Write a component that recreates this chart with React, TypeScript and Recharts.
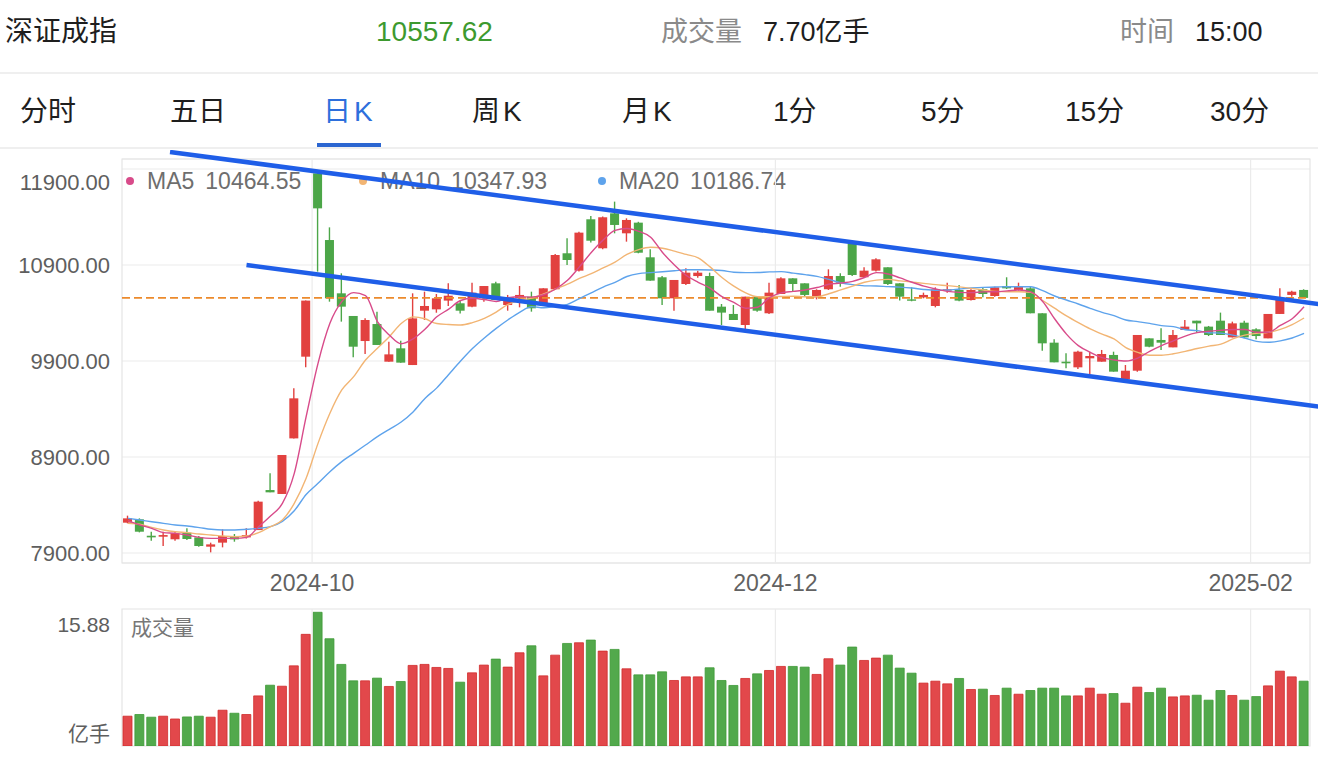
import {
  ComposedChart,
  Bar,
  Line,
  Cell,
  XAxis,
  YAxis,
  CartesianGrid,
  ReferenceLine,
  ReferenceArea,
} from 'recharts'

const dates = [
  '2024-09-05', '2024-09-06', '2024-09-09', '2024-09-10', '2024-09-11', '2024-09-12', '2024-09-13', '2024-09-18', '2024-09-19', '2024-09-20',
  '2024-09-23', '2024-09-24', '2024-09-25', '2024-09-26', '2024-09-27', '2024-09-30', '2024-10-08', '2024-10-09', '2024-10-10', '2024-10-11',
  '2024-10-14', '2024-10-15', '2024-10-16', '2024-10-17', '2024-10-18', '2024-10-21', '2024-10-22', '2024-10-23', '2024-10-24', '2024-10-25',
  '2024-10-28', '2024-10-29', '2024-10-30', '2024-10-31', '2024-11-01', '2024-11-04', '2024-11-05', '2024-11-06', '2024-11-07', '2024-11-08',
  '2024-11-11', '2024-11-12', '2024-11-13', '2024-11-14', '2024-11-15', '2024-11-18', '2024-11-19', '2024-11-20', '2024-11-21', '2024-11-22',
  '2024-11-25', '2024-11-26', '2024-11-27', '2024-11-28', '2024-11-29', '2024-12-02', '2024-12-03', '2024-12-04', '2024-12-05', '2024-12-06',
  '2024-12-09', '2024-12-10', '2024-12-11', '2024-12-12', '2024-12-13', '2024-12-16', '2024-12-17', '2024-12-18', '2024-12-19', '2024-12-20',
  '2024-12-23', '2024-12-24', '2024-12-25', '2024-12-26', '2024-12-27', '2024-12-30', '2024-12-31', '2025-01-02', '2025-01-03', '2025-01-06',
  '2025-01-07', '2025-01-08', '2025-01-09', '2025-01-10', '2025-01-13', '2025-01-14', '2025-01-15', '2025-01-16', '2025-01-17', '2025-01-20',
  '2025-01-21', '2025-01-22', '2025-01-23', '2025-01-24', '2025-01-27', '2025-02-05', '2025-02-06', '2025-02-07', '2025-02-10', '2025-02-11',
]

const opens = [
  8216, 8251, 8080, 8070, 8043, 8112, 8063, 7966, 8008, 8070,
  8063, 8139, 8556, 8515, 9094, 9945, 11855, 11160, 10605, 10369,
  10108, 10285, 9893, 10032, 9858, 10424, 10438, 10529, 10501, 10466,
  10570, 10709, 10483, 10553, 10570, 10494, 10647, 11022, 10841, 11376,
  11074, 11438, 11230, 11341, 10980, 10772, 10553, 10702, 10785, 10785,
  10466, 10390, 10275, 10570, 10397, 10598, 10761, 10709, 10563, 10647,
  10785, 11119, 10772, 10841, 10876, 10709, 10542, 10563, 10473, 10633,
  10640, 10535, 10647, 10577, 10681, 10640, 10657, 10397, 10091, 9893,
  9834, 9928, 9893, 9963, 9709, 9799, 10136, 10119, 10042, 10223,
  10320, 10258, 10320, 10146, 10299, 10230, 10136, 10390, 10588, 10640,
]

const closes = [
  8261, 8122, 8063, 8087, 8105, 8046, 7973, 7990, 8077, 8042,
  8087, 8435, 8532, 8921, 9511, 10529, 11490, 10553, 10466, 10049,
  10327, 10067, 9969, 9883, 10344, 10473, 10553, 10580, 10424, 10612,
  10681, 10535, 10553, 10588, 10449, 10657, 11004, 10952, 11237, 11153,
  11397, 11317, 11369, 11028, 10737, 10553, 10744, 10820, 10820, 10424,
  10404, 10327, 10570, 10424, 10612, 10761, 10702, 10588, 10640, 10785,
  10716, 10796, 10841, 10959, 10702, 10570, 10529, 10588, 10647, 10647,
  10529, 10640, 10598, 10667, 10657, 10674, 10397, 10084, 9886, 9876,
  9997, 9952, 9973, 9789, 9799, 10171, 10049, 10091, 10171, 10258,
  10292, 10171, 10171, 10292, 10146, 10160, 10390, 10553, 10622, 10557.62,
]

const highs = [
  8289, 8261, 8122, 8122, 8129, 8157, 8077, 8008, 8147, 8098,
  8157, 8445, 8730, 8921, 9615, 10529, 11890, 11292, 10813, 10369,
  10344, 10414, 10101, 10112, 10605, 10622, 10598, 10709, 10529, 10716,
  10681, 10726, 10588, 10681, 10622, 10657, 11015, 11178, 11247, 11410,
  11404, 11560, 11386, 11350, 11063, 10785, 10744, 10865, 10841, 10820,
  10494, 10483, 10570, 10570, 10716, 10772, 10761, 10709, 10647, 10855,
  10813, 11126, 10876, 10970, 10876, 10709, 10667, 10612, 10667, 10716,
  10692, 10647, 10667, 10674, 10772, 10716, 10674, 10397, 10126, 9980,
  10008, 9997, 10015, 9997, 9858, 10171, 10136, 10240, 10223, 10327,
  10320, 10265, 10404, 10310, 10320, 10240, 10390, 10657, 10633, 10647,
]

const lows = [
  8209, 8115, 8028, 7973, 8028, 8035, 7966, 7907, 7959, 8018,
  8050, 8139, 8532, 8515, 9094, 9834, 10831, 10518, 10310, 9938,
  9973, 10067, 9893, 9883, 9858, 10327, 10403, 10473, 10396, 10459,
  10518, 10535, 10424, 10459, 10414, 10494, 10640, 10900, 10831, 11133,
  11063, 11230, 11143, 11022, 10737, 10483, 10424, 10692, 10768, 10424,
  10275, 10327, 10230, 10414, 10390, 10598, 10622, 10570, 10542, 10640,
  10674, 10785, 10765, 10831, 10692, 10529, 10522, 10553, 10459, 10612,
  10522, 10529, 10563, 10570, 10650, 10633, 10397, 10008, 9886, 9824,
  9817, 9765, 9893, 9789, 9709, 9789, 10042, 10015, 10042, 10223,
  10195, 10160, 10171, 10146, 10136, 10126, 10136, 10390, 10570, 10557.62,
]

// 亿手
const volumes = [
  3.54, 3.74, 3.42, 3.54, 3.21, 3.45, 3.54, 3.42, 4.25, 3.89,
  3.74, 5.95, 7.22, 7.1, 9.52, 13.26, 15.88, 12.74, 9.69, 7.74,
  7.74, 8.06, 7.07, 7.66, 9.57, 9.69, 9.33, 9.21, 7.58, 8.69,
  9.61, 10.32, 9.37, 11.07, 11.9, 8.33, 10.79, 12.18, 12.26, 12.58,
  11.27, 11.47, 9.17, 8.45, 8.45, 8.81, 7.78, 8.21, 8.21, 9.29,
  7.78, 7.19, 8.02, 8.57, 8.97, 9.45, 9.45, 9.37, 8.5, 10.36,
  9.61, 11.75, 10.16, 10.44, 10.79, 9.25, 8.65, 7.47, 7.7, 7.38,
  8.02, 6.71, 6.75, 6.0, 6.87, 6.15, 6.59, 6.87, 6.87, 5.95,
  5.95, 6.87, 6.15, 6.23, 5.08, 6.99, 6.35, 6.87, 5.83, 5.95,
  6.03, 5.44, 6.59, 6.0, 5.44, 5.87, 7.14, 8.89, 8.21, 7.7,
]

const ma5 = [
  8237, 8192, 8157, 8112, 8105, 8088, 8063, 8053, 8053, 8053,
  8063, 8174, 8285, 8417, 8730, 9320, 9876, 10292, 10518, 10612,
  10581, 10310, 10171, 10080, 10130, 10230, 10360, 10440, 10530, 10553,
  10540, 10520, 10560, 10570, 10565, 10590, 10650, 10740, 10880, 11030,
  11160, 11260, 11280, 11250, 11190, 11030, 10900, 10790, 10720, 10660,
  10570, 10510, 10450, 10460, 10560, 10610, 10625, 10640, 10665, 10700,
  10712, 10730, 10770, 10820, 10806, 10765, 10720, 10680, 10650, 10625,
  10615, 10612, 10620, 10622, 10630, 10640, 10620, 10520, 10340, 10180,
  10060, 9990, 9935, 9912, 9900, 9930, 10000, 10060, 10110, 10160,
  10195, 10210, 10220, 10228, 10228, 10200, 10200, 10270, 10340, 10464.55,
]

const ma10 = [
  8209, 8200, 8167, 8140, 8122, 8112, 8098, 8088, 8077, 8070,
  8077, 8112, 8174, 8244, 8417, 8678, 9042, 9355, 9598, 9737,
  9910, 10032, 10153, 10290, 10360, 10340, 10290, 10280, 10275, 10300,
  10345, 10410, 10490, 10530, 10555, 10600, 10650, 10700, 10760, 10810,
  10870, 10930, 11010, 11060, 11085, 11075, 11045, 11010, 10975, 10880,
  10770, 10680, 10610, 10570, 10570, 10572, 10575, 10570, 10570, 10600,
  10640, 10680, 10720, 10742, 10750, 10735, 10722, 10709, 10695, 10685,
  10672, 10657, 10640, 10625, 10622, 10622, 10615, 10530, 10450, 10370,
  10300, 10235, 10180, 10130, 10040, 9990, 9960, 9960, 9975, 10000,
  10030, 10055, 10075, 10130, 10170, 10188, 10200, 10230, 10280, 10347.93,
]

const ma20 = [
  8261, 8244, 8226, 8209, 8192, 8181, 8165, 8147, 8140, 8140,
  8147, 8157, 8175, 8230, 8340, 8510, 8626, 8747, 8852, 8938,
  9025, 9112, 9188, 9265, 9370, 9510, 9620, 9760, 9900, 10030,
  10140, 10240, 10330, 10410, 10466, 10455, 10470, 10490, 10550, 10610,
  10670, 10720, 10780, 10810, 10820, 10830, 10840, 10850, 10850, 10848,
  10842, 10825, 10820, 10822, 10828, 10831, 10815, 10800, 10782, 10750,
  10715, 10695, 10683, 10681, 10675, 10670, 10660, 10645, 10637, 10640,
  10650, 10660, 10667, 10670, 10674, 10674, 10674, 10633, 10577, 10535,
  10494, 10449, 10407, 10372, 10327, 10310, 10292, 10268, 10258, 10226,
  10216, 10195, 10190, 10170, 10140, 10105, 10095, 10110, 10140, 10186.74,
]

const priceTicks = [7900, 8900, 9900, 10900, 11900]
const monthTicks = [15.5, 54.5, 94.5]
const lastPrice = 10557.62
const upperTrend = [
  { i: 3.54, v: 12077 },
  { i: 100.2, v: 10494 },
]
const lowerTrend = [
  { i: 9.98, v: 10900 },
  { i: 100.2, v: 9426 },
]
const maNames = ['MA5', 'MA10', 'MA20']

const RED = '#e2413f'
const GREEN = '#4ca648'
const MA_COLORS = ['#d84b8a', '#f2b574', '#5ea3ec']
const FONT = '"Liberation Sans", "Noto Sans CJK SC", sans-serif'

const rows = dates.map((d, i) => ({
  date: d,
  i,
  open: opens[i],
  close: closes[i],
  high: highs[i],
  low: lows[i],
  range: [lows[i], highs[i]],
  vol: volumes[i],
  ma5: ma5[i],
  ma10: ma10[i],
  ma20: ma20[i],
}))

const Candle = (props: any) => {
  const { x, y, width, height, payload } = props
  const { open, close, high, low } = payload
  const color = close >= open ? RED : GREEN
  const top = Math.min(y, y + height)
  const h = Math.abs(height)
  const px = (v: number) => (high === low ? top : top + ((high - v) / (high - low)) * h)
  const bodyTop = px(Math.max(open, close))
  const bodyBot = px(Math.min(open, close))
  const cx = x + width / 2
  return (
    <g>
      <line x1={cx} x2={cx} y1={top} y2={top + h} stroke={color} strokeWidth={1.4} />
      <rect x={x} y={bodyTop} width={width} height={Math.max(bodyBot - bodyTop, 1.4)} fill={color} />
    </g>
  )
}

const PriceTick = (p: any) => {
  const v = p.payload.value
  const shift = v === priceTicks[priceTicks.length - 1] ? 13 : 0
  return (
    <text x={p.x} y={p.y + shift} dy="0.36em" textAnchor="end" fill="#5e5e5e" fontSize={22} fontFamily={FONT}>
      {v.toFixed(2)}
    </text>
  )
}

const VolTick = (p: any) => {
  const v = p.payload.value
  return (
    <text x={p.x} y={p.y + (v === 0 ? -13 : 12)} dy="0.36em" textAnchor="end" fill="#5e5e5e" fontSize={21} fontFamily={FONT}>
      {v === 0 ? '亿手' : v.toFixed(2)}
    </text>
  )
}

const monthLabel = (v: number) => dates[Math.ceil(v)].slice(0, 7)

const txt = (left: number, cy: number, size: number, color: string): React.CSSProperties => ({
  position: 'absolute',
  left,
  top: cy - 18,
  lineHeight: '36px',
  fontSize: size,
  color,
  whiteSpace: 'nowrap',
})

const tabs = ['分时', '五日', '日K', '周K', '月K', '1分', '5分', '15分', '30分']
const tabX = [20, 170, 323, 472, 622, 773, 921, 1065, 1210]
const legendX = [130, 363, 602]

const App = () => {
  const lastMa = [ma5[99], ma10[99], ma20[99]]
  const volMax = 16.27
  return (
    <div style={{ position: 'absolute', left: 0, top: 0, width: 1318, height: 758, background: '#fff', overflow: 'hidden', fontFamily: FONT }}>
      <span style={txt(5, 32, 28, '#1e1e1e')}>深证成指</span>
      <span style={txt(376, 32, 28, '#3d9a2f')}>{lastPrice.toFixed(2)}</span>
      <span style={txt(661, 32, 27, '#8a8a8a')}>成交量</span>
      <span style={txt(763, 32, 27, '#1e1e1e')}>7.70亿手</span>
      <span style={txt(1120, 32, 27, '#8a8a8a')}>时间</span>
      <span style={txt(1195, 32, 27, '#1e1e1e')}>15:00</span>
      <div style={{ position: 'absolute', left: 0, top: 72, width: 1318, height: 2, background: '#efefef' }} />
      {tabs.map((t, k) => (
        <span key={t} style={{ ...txt(tabX[k], 112, 28, k === 2 ? '#2d6fdc' : '#1e1e1e'), letterSpacing: t.endsWith('K') ? 3 : 0 }}>
          {t}
        </span>
      ))}
      <div style={{ position: 'absolute', left: 317, top: 143, width: 64, height: 4, background: '#2b66d1' }} />
      <div style={{ position: 'absolute', left: 0, top: 147, width: 1318, height: 2, background: '#efefef' }} />

      {maNames.map((n, k) => (
        <div key={n} style={{ position: 'absolute', left: legendX[k] - 4, top: 167, height: 28, display: 'flex', alignItems: 'center', fontSize: 23, color: '#6e6e6e', whiteSpace: 'nowrap' }}>
          <span style={{ width: 8, height: 8, borderRadius: 4, background: MA_COLORS[k], marginRight: 13 }} />
          <span>{n}</span>
          <span style={{ marginLeft: 11 }}>{lastMa[k].toFixed(2)}</span>
        </div>
      ))}

      <div style={{ position: 'absolute', left: 0, top: 150 }}>
        <ComposedChart width={1318} height={455} data={rows} margin={{ top: 9, right: 8, bottom: 0, left: 0 }}>
          <CartesianGrid vertical={false} stroke="#ebebeb" strokeWidth={1.2} xAxisId="n" />
          <XAxis
            xAxisId="n"
            dataKey="i"
            type="number"
            domain={[-0.5, 99.5]}
            allowDataOverflow
            ticks={monthTicks}
            interval={0}
            tickFormatter={monthLabel}
            axisLine={false}
            tickLine={false}
            tickSize={0}
            tickMargin={12}
            height={42}
            tick={{ fill: '#626262', fontSize: 23, fontFamily: FONT }}
          />
          <XAxis xAxisId="c" dataKey="date" type="category" hide height={0} />
          <YAxis
            domain={[7796, 12004]}
            allowDataOverflow
            ticks={priceTicks}
            interval={0}
            width={122}
            axisLine={false}
            tickLine={false}
            tickSize={0}
            tickMargin={12}
            tick={<PriceTick />}
          />
          <ReferenceArea xAxisId="n" x1={-0.5} x2={99.5} y1={7796} y2={12004} fill="none" stroke="#e4e4e4" strokeWidth={1.2} />
          {monthTicks.map((m) => (
            <ReferenceLine key={m} xAxisId="n" x={m} stroke="#ebebeb" strokeWidth={1.2} />
          ))}
          <ReferenceLine xAxisId="n" y={lastPrice} stroke="#ec8a2c" strokeWidth={1.6} strokeDasharray="8 4" />
          <Bar xAxisId="c" dataKey="range" barSize={9} shape={<Candle />} isAnimationActive={false} />
          <Line xAxisId="c" type="monotone" dataKey="ma20" stroke={MA_COLORS[2]} strokeWidth={1.4} dot={false} isAnimationActive={false} />
          <Line xAxisId="c" type="monotone" dataKey="ma10" stroke={MA_COLORS[1]} strokeWidth={1.4} dot={false} isAnimationActive={false} />
          <Line xAxisId="c" type="monotone" dataKey="ma5" stroke={MA_COLORS[0]} strokeWidth={1.4} dot={false} isAnimationActive={false} />
          <ReferenceLine
            xAxisId="n"
            segment={[{ x: upperTrend[0].i, y: upperTrend[0].v }, { x: upperTrend[1].i, y: upperTrend[1].v }]}
            ifOverflow="visible"
            stroke="#1f5ee8"
            strokeWidth={4.5}
          />
          <ReferenceLine
            xAxisId="n"
            segment={[{ x: lowerTrend[0].i, y: lowerTrend[0].v }, { x: lowerTrend[1].i, y: lowerTrend[1].v }]}
            ifOverflow="visible"
            stroke="#1f5ee8"
            strokeWidth={4.5}
          />
        </ComposedChart>
      </div>

      <span style={txt(131, 628, 21, '#777')}>成交量</span>
      <div style={{ position: 'absolute', left: 0, top: 600 }}>
        <ComposedChart width={1318} height={158} data={rows} margin={{ top: 9, right: 8, bottom: 12, left: 0 }}>
          <XAxis xAxisId="n" dataKey="i" type="number" domain={[-0.5, 99.5]} allowDataOverflow hide height={0} />
          <XAxis xAxisId="c" dataKey="date" type="category" hide height={0} />
          <YAxis
            domain={[0, volMax]}
            allowDataOverflow
            ticks={[0, volumes[16]]}
            interval={0}
            width={122}
            axisLine={false}
            tickLine={false}
            tickSize={0}
            tickMargin={12}
            tick={<VolTick />}
          />
          <ReferenceArea xAxisId="n" x1={-0.5} x2={99.5} y1={0} y2={volMax} fill="none" stroke="#e4e4e4" strokeWidth={1.2} />
          {monthTicks.map((m) => (
            <ReferenceLine key={m} xAxisId="n" x={m} stroke="#ebebeb" strokeWidth={1.2} />
          ))}
          <Bar xAxisId="c" dataKey="vol" barSize={9} isAnimationActive={false}>
            {rows.map((r) => (
              <Cell
                key={r.date}
                fill={r.close >= r.open ? '#e2484b' : '#52a94c'}
                stroke={r.close >= r.open ? '#d12c2c' : '#3f9b37'}
                strokeWidth={0.8}
              />
            ))}
          </Bar>
        </ComposedChart>
      </div>
    </div>
  )
}

export default App
